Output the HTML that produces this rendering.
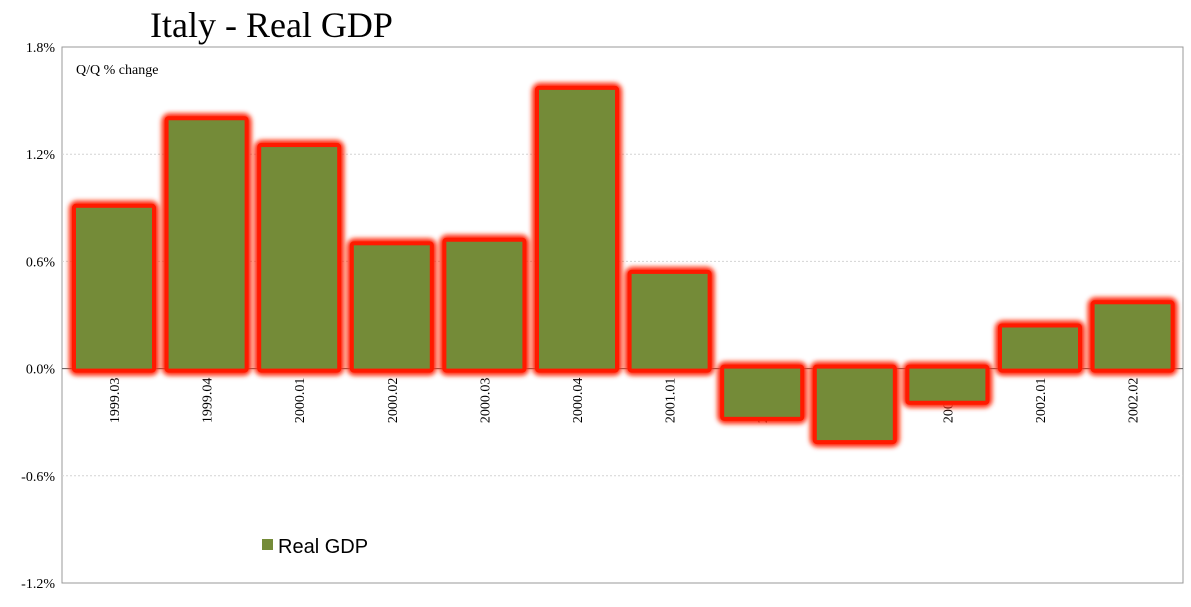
<!DOCTYPE html>
<html><head><meta charset="utf-8"><style>
body{margin:0;background:#fff;}
svg{display:block;}
</style></head><body>
<svg id="c" width="1191" height="607" xmlns="http://www.w3.org/2000/svg">
<defs>
<filter id="glow" x="-30%" y="-30%" width="160%" height="160%"><feGaussianBlur stdDeviation="2.5"/></filter>
</defs>
<text x="150" y="37" font-family="Liberation Serif, serif" font-size="36" fill="#000">Italy - Real GDP</text>
<rect x="62" y="47" width="1121" height="536" fill="#fff" stroke="#999"/>
<text x="76" y="74" font-family="Liberation Serif, serif" font-size="14">Q/Q % change</text>
<g id="grid"></g><g id="labels"></g><g id="bars"></g>
<rect x="262" y="539" width="11" height="11" fill="#748b38"/>
<text x="278" y="553" font-family="Liberation Sans, sans-serif" font-size="20">Real GDP</text>
</svg>
<script>
const categories=["1999.03","1999.04","2000.01","2000.02","2000.03","2000.04","2001.01","2001.02","2001.03","2001.04","2002.01","2002.02"];
const values=[0.90,1.39,1.24,0.69,0.71,1.56,0.53,-0.27,-0.40,-0.18,0.23,0.36];
const ticks=[1.8,1.2,0.6,0.0,-0.6,-1.2];
const ns="http://www.w3.org/2000/svg";
const plotTop=47,plotBot=583,ymax=1.8,ymin=-1.2,x0=67.7,cw=92.6;
const y=v=>plotTop+(ymax-v)/(ymax-ymin)*(plotBot-plotTop);
const xc=i=>x0+cw*(i+0.5);
function mk(t,a,p){const e=document.createElementNS(ns,t);for(const k in a)e.setAttribute(k,a[k]);p.appendChild(e);return e;}
const grid=document.getElementById('grid');
ticks.forEach(t=>{
 if(t<1.8&&t>-1.2){const l=mk('line',{x1:62,x2:1183,y1:y(t),y2:y(t),stroke:t===0?'#555':'#d4d4d4','stroke-dasharray':t===0?'':'2,2'},grid);
 
 }
 const tx=mk('text',{x:55,y:y(t)+5,'text-anchor':'end','font-family':'Liberation Serif, serif','font-size':14},grid);
 tx.textContent=t.toFixed(1)+'%';
 
 
});
const lab=document.getElementById('labels');
categories.forEach((c,i)=>{
 const t=mk('text',{transform:`translate(${xc(i)+5},${y(0)+9}) rotate(-90)`,'text-anchor':'end','font-family':'Liberation Serif, serif','font-size':14},lab);
 t.textContent=c;
 
 
});
const bars=document.getElementById('bars');
values.forEach((v,i)=>{
 const bw=76,x=xc(i)-bw/2,y1=Math.min(y(v),y(0)),h=Math.abs(y(v)-y(0));
 const g=mk('rect',{x:x-7,y:y1-7,width:bw+14,height:h+14,rx:8,fill:'#ff2a10',filter:'url(#glow)'},bars);
 
 
 const g2=mk('rect',{x:x-4,y:y1-4,width:bw+8,height:h+8,rx:4,fill:'#ff1a00'},bars);
 
 
 const r=mk('rect',{x:x,y:y1,width:bw,height:h,fill:'#748b38'},bars);
 
 
});
</script>
</body></html>
